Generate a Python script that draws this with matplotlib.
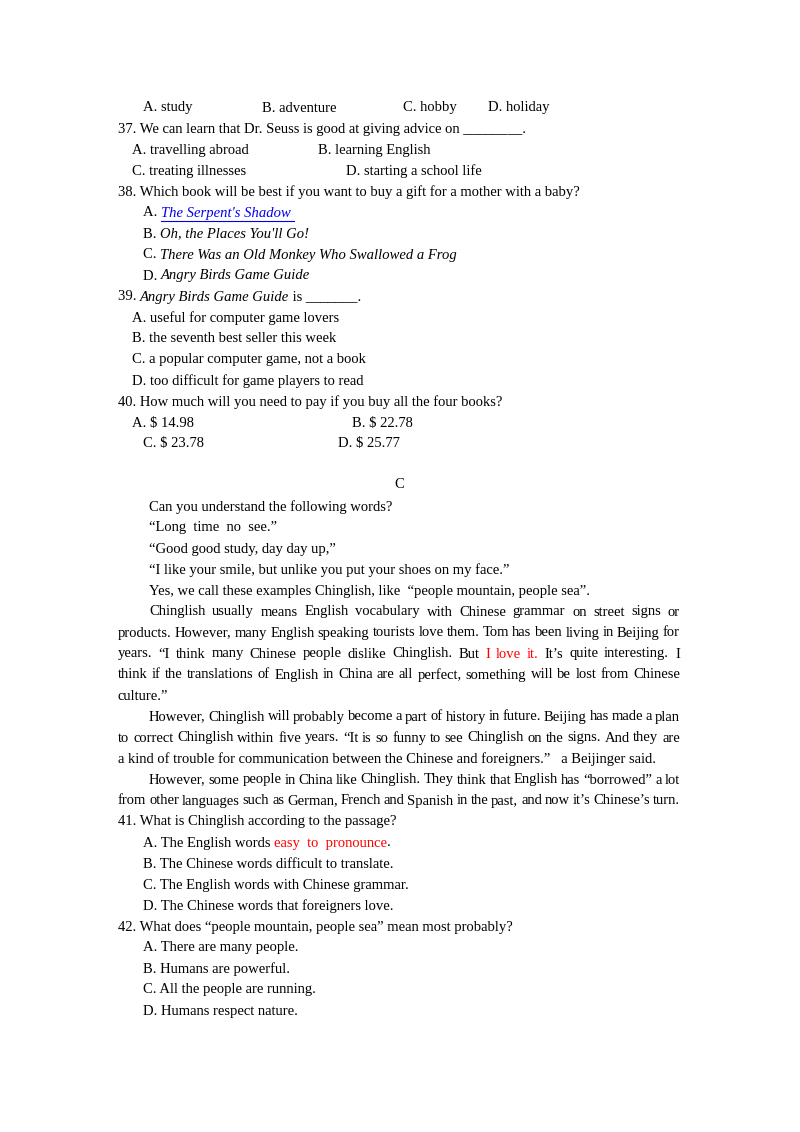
import matplotlib
matplotlib.use("Agg")
import matplotlib.pyplot as plt
from matplotlib.lines import Line2D

W, H = 800, 1132
FONT = "Liberation Serif"
SIZE = 10.5
RIGHT = 680

# each line: (y, x, segments, justify)
# segment styles: n normal, i italic, r red, l blue link (italic, underlined)
lines = [
    (108, 143, [("A. study", "n")], False),
    (108, 262, [("B. adventure", "n")], False),
    (108, 403, [("C. hobby", "n")], False),
    (108, 488, [("D. holiday", "n")], False),
    (129, 118, [("37. We can learn that Dr. Seuss is good at giving advice on ________.", "n")], False),
    (150, 132, [("A. travelling abroad", "n")], False),
    (150, 318, [("B. learning English", "n")], False),
    (171, 132, [("C. treating illnesses", "n")], False),
    (171, 346, [("D. starting a school life", "n")], False),
    (192, 118, [("38. Which book will be best if you want to buy a gift for a mother with a baby?", "n")], False),
    (213, 143, [("A. ", "n"), ("The Serpent's Shadow ", "l")], False),
    (234, 143, [("B. ", "n"), ("Oh, the Places You'll Go!", "i")], False),
    (255, 143, [("C. ", "n"), ("There Was an Old Monkey Who Swallowed a Frog", "i")], False),
    (276, 143, [("D. ", "n"), ("Angry Birds Game Guide", "i")], False),
    (297, 118, [("39. ", "n"), ("Angry Birds Game Guide", "i"), (" is _______.", "n")], False),
    (318, 132, [("A. useful for computer game lovers", "n")], False),
    (339, 132, [("B. the seventh best seller this week", "n")], False),
    (360, 132, [("C. a popular computer game, not a book", "n")], False),
    (381, 132, [("D. too difficult for game players to read", "n")], False),
    (402, 118, [("40. How much will you need to pay if you buy all the four books?", "n")], False),
    (423, 132, [("A. $ 14.98", "n")], False),
    (423, 352, [("B. $ 22.78", "n")], False),
    (444, 143, [("C. $ 23.78", "n")], False),
    (444, 338, [("D. $ 25.77", "n")], False),
    (485, 394, [("C", "n")], False),
    (507, 149, [("Can you understand the following words?", "n")], False),
    (528, 149, [("\u201cLong  time  no  see.\u201d", "n")], False),
    (549, 149, [("\u201cGood good study, day day up,\u201d", "n")], False),
    (570, 149, [("\u201cI like your smile, but unlike you put your shoes on my face.\u201d", "n")], False),
    (591, 149, [("Yes, we call these examples Chinglish, like  \u201cpeople mountain, people sea\u201d.", "n")], False),
    (612, 149, [("Chinglish usually means English vocabulary with Chinese grammar on street signs or", "n")], True),
    (633, 118, [("products. However, many English speaking tourists love them. Tom has been living in Beijing for", "n")], True),
    (654, 118, [("years. \u201cI think many Chinese people dislike Chinglish. But", "n"), ("I love it.", "r"),
                ("It\u2019s quite interesting. I", "n")], True),
    (675, 118, [("think if the translations of English in China are all perfect, something will be lost from Chinese", "n")], True),
    (696, 118, [("culture.\u201d", "n")], False),
    (717, 149, [("However, Chinglish will probably become a part of history in future. Beijing has made a plan", "n")], True),
    (738, 118, [("to correct Chinglish within five years. \u201cIt is so funny to see Chinglish on the signs. And they are", "n")], True),
    (759, 118, [("a kind of trouble for communication between the Chinese and foreigners.\u201d   a Beijinger said.", "n")], False),
    (780, 149, [("However, some people in China like Chinglish. They think that English has \u201cborrowed\u201d a lot", "n")], True),
    (801, 118, [("from other languages such as German, French and Spanish in the past, and now it\u2019s Chinese\u2019s turn.", "n")], True),
    (822, 118, [("41. What is Chinglish according to the passage?", "n")], False),
    (843, 143, [("A. The English words ", "n"), ("easy  to  pronounce", "r"), (".", "n")], False),
    (864, 143, [("B. The Chinese words difficult to translate.", "n")], False),
    (885, 143, [("C. The English words with Chinese grammar.", "n")], False),
    (906, 143, [("D. The Chinese words that foreigners love.", "n")], False),
    (927, 118, [("42. What does \u201cpeople mountain, people sea\u201d mean most probably?", "n")], False),
    (948, 143, [("A. There are many people.", "n")], False),
    (969, 143, [("B. Humans are powerful.", "n")], False),
    (990, 143, [("C. All the people are running.", "n")], False),
    (1011, 143, [("D. Humans respect nature.", "n")], False),
]

STYLES = {
    "n": dict(color="black", style="normal"),
    "i": dict(color="black", style="italic"),
    "r": dict(color="#ff0000", style="normal"),
    "l": dict(color="#0000ee", style="italic"),
}

fig = plt.figure(figsize=(W / 100, H / 100), dpi=100)
fig.patch.set_facecolor("white")
renderer = fig.canvas.get_renderer()


def put(x, y, text, kind):
    st = STYLES[kind]
    t = fig.text(x / W, 1 - y / H, text, family=FONT, size=SIZE, va="center", ha="left",
                 color=st["color"], style=st["style"])
    return t, t.get_window_extent(renderer).width


def width(text, kind):
    t, w = put(0, 0, text, kind)
    t.remove()
    return w


for y, x, segs, justify in lines:
    if justify:
        words = [(w, k) for text, k in segs for w in text.split()]
        total = sum(width(w, k) for w, k in words)
        gap = (RIGHT - x - total) / (len(words) - 1)
        cx = x
        for w, k in words:
            _, ww = put(cx, y, w, k)
            cx += ww + gap
    else:
        cx = x
        for text, k in segs:
            _, ww = put(cx, y, text, k)
            if k == "l":
                yy = 1 - (y + 8) / H
                fig.add_artist(Line2D([cx / W, (cx + ww) / W], [yy, yy], color=STYLES[k]["color"], lw=0.8))
            cx += ww

fig.savefig("out.png", dpi=100, facecolor="white")
